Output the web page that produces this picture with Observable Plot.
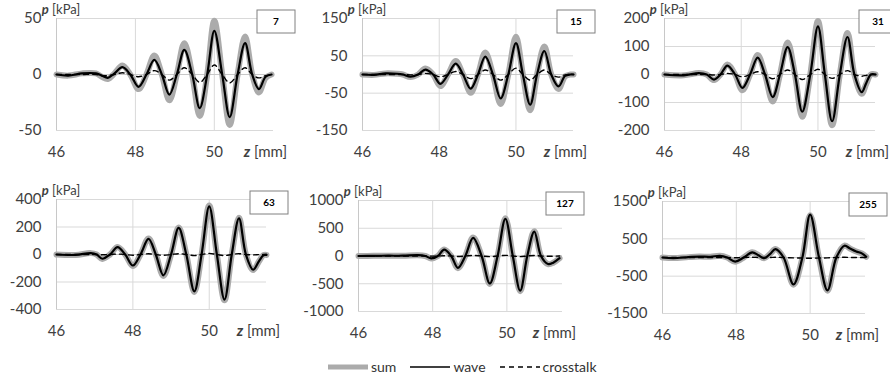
<!DOCTYPE html>
<html>
<head>
<meta charset="utf-8">
<script src="https://cdn.jsdelivr.net/npm/d3@7"></script>
<script src="https://cdn.jsdelivr.net/npm/@observablehq/plot@0.6"></script>
<style>
  body { margin: 0; background: #fff; }
  #root { position: relative; width: 890px; height: 380px; overflow: hidden; font-family: Lato, "Open Sans", sans-serif; }
  #root svg { position: absolute; overflow: visible; }
  #legend { position: absolute; left: 328px; top: 358px; display: flex; align-items: center; font-size: 14px; color: #333; font-family: Lato, sans-serif; }
  #legend .item { display: flex; align-items: center; margin-right: 14px; }
  #legend svg { position: static; margin-right: 3px; }
</style>
</head>
<body>
<div id="root"><div id="legend"></div></div>
<script>
// ---------- data ----------
const panelLabels = ["7", "15", "31", "63", "127", "255"];
const xTicks = [46, 48, 50];
const xDomain = [46, 51.5];

// panel "7"
const z7 = [46.0, 46.3, 46.65, 47.0, 47.15, 47.3, 47.47, 47.67, 47.87, 48.08, 48.28, 48.48, 48.67, 48.86, 49.05, 49.24, 49.44, 49.63, 49.82, 50.0, 50.2, 50.39, 50.59, 50.78, 50.96, 51.13, 51.3, 51.45];
const wave7 = [0, -1, 1, 1, -1, -3, 1, 6.5, 0, -11, 0, 13, 0, -18, 0, 22, 0, -30, 0, 39, 0, -38, 0, 28, 0, -13, -2, 0];
const cross7 = [0, 0, 0, 0, -1, -1, 0, 1.5, 0, -2, 0, 3.5, 0, -5, 0, 6, 0, -7, 0, 8.5, 0, -7.5, 0, 6, 0, -3, -1, 0];
const sum7 = [0, -1, 1, 1, -2, -4, 1, 8, 0, -13, 0, 17, 0, -23, 0, 28, 0, -37, 0, 48, 0, -45, 0, 34, 0, -16, -3, 0];
const yTicks7 = [-50, 0, 50];

// panel "15"
const z15 = [46.0, 46.3, 46.6, 46.9, 47.05, 47.25, 47.45, 47.64, 47.84, 48.03, 48.23, 48.43, 48.62, 48.82, 49.01, 49.2, 49.4, 49.6, 49.8, 50.0, 50.18, 50.37, 50.55, 50.74, 50.92, 51.11, 51.28, 51.42, 51.5];
const wave15 = [0, -1, 3, 2, 0, -6, 0, 13, 0, -25, 0, 29, 0, -38, 0, 48, 0, -64, 0, 84, 0, -81, 0, 63, 0, -32, -4, 0, 0];
const cross15 = [0, 0, 0, 0, 0, -1, 0, 3, 0, -6, 0, 8, 0, -11, 0, 12, 0, -15, 0, 17, 0, -15, 0, 12, 0, -7, -1, 0, 0];
const sum15 = [0, -1, 3, 2, 0, -7, 0, 16, 0, -31, 0, 36, 0, -49, 0, 59, 0, -79, 0, 101, 0, -96, 0, 75, 0, -39, -5, 0, 0];
const yTicks15 = [-150, -50, 50, 150];

// panel "31"
const z31 = [46.0, 46.5, 46.9, 47.1, 47.29, 47.46, 47.64, 47.84, 48.03, 48.23, 48.43, 48.62, 48.82, 49.01, 49.21, 49.4, 49.59, 49.8, 50.0, 50.18, 50.37, 50.57, 50.77, 50.95, 51.14, 51.26, 51.38, 51.5];
const wave31 = [0, -3, 5, 0, -18, 0, 32, 0, -48, 0, 60, 0, -81, 0, 98, 0, -133, 0, 172, 0, -167, 0, 134, 0, -63, -30, 0, 0];
const cross31 = [0, 0, 0, 0, -2, 0, 4, 0, -8, 0, 10, 0, -15, 0, 16, 0, -18, 0, 19, 0, -14, 0, 14, 0, -6, -3, 0, 0];
const sum31 = [0, -3, 5, 0, -20, 0, 36, 0, -56, 0, 70, 0, -96, 0, 114, 0, -151, 0, 191, 0, -181, 0, 148, 0, -69, -33, 0, 0];
const yTicks31 = [-200, -100, 0, 100, 200];

// panel "63"
const z63 = [46.0, 46.5, 46.9, 47.05, 47.2, 47.4, 47.6, 47.8, 48.0, 48.2, 48.41, 48.6, 48.8, 49.0, 49.2, 49.4, 49.61, 49.8, 50.0, 50.2, 50.4, 50.59, 50.78, 50.96, 51.15, 51.3, 51.42, 51.5];
const wave63 = [0, -3, 10, 0, -31, 0, 53, 0, -80, 0, 113, 0, -152, 0, 193, 0, -268, 0, 350, 0, -328, 0, 263, 0, -111, -50, -5, -3];
const cross63 = [0, 0, 0, 0, -2, 0, 3, 0, -5, 0, 5, 0, -6, 0, 6, 0, -8, 0, 8, 0, -8, 0, 6, 0, -3, -1, 0, 0];
const sum63 = [0, -3, 10, 0, -32, 0, 55, 0, -83, 0, 116, 0, -156, 0, 197, 0, -273, 0, 356, 0, -333, 0, 267, 0, -113, -51, -5, -3];
const yTicks63 = [-400, -200, 0, 200, 400];

// panel "127"
const z127 = [46.0, 46.4, 46.8, 47.2, 47.6, 47.8, 47.96, 48.14, 48.31, 48.5, 48.68, 48.88, 49.09, 49.32, 49.54, 49.75, 49.96, 50.16, 50.36, 50.55, 50.74, 50.92, 51.11, 51.25, 51.42];
const wave127 = [0, 3, 5, 5, 15, 0, -42, 0, 115, 0, -215, 0, 325, 0, -495, 0, 670, 0, -625, 0, 440, 0, -145, -120, -40];
const cross127 = [0, 0, 0, 0, 0, 0, -3, 0, 5, 0, -8, 0, 10, 0, -12, 0, 12, 0, -12, 0, 10, 0, -5, -3, 0];
const sum127 = [0, 3, 5, 5, 15, 0, -44, 0, 118, 0, -220, 0, 332, 0, -503, 0, 678, 0, -633, 0, 447, 0, -148, -122, -40];
const yTicks127 = [-1000, -500, 0, 500, 1000];

// panel "255"
const z255 = [46.0, 46.3, 46.7, 47.0, 47.3, 47.56, 47.75, 47.97, 48.2, 48.43, 48.6, 48.75, 48.92, 49.06, 49.28, 49.55, 49.79, 50.0, 50.24, 50.47, 50.71, 50.93, 51.08, 51.25, 51.4, 51.52];
const wave255 = [0, -15, 10, 25, 20, 45, 0, -108, 0, 135, 60, -18, 100, 225, 0, -720, 0, 1150, 0, -880, 0, 315, 240, 160, 110, 20];
const cross255 = [0, 0, 0, 0, 0, 0, 0, -5, 0, 5, 0, 0, 0, 5, 0, -10, -15, -20, -15, -10, 0, 5, 0, 0, 0, 0];
const sum255 = [0, -15, 10, 25, 20, 45, 0, -112, 0, 139, 60, -18, 100, 229, 0, -727, -12, 1135, -12, -888, 0, 319, 240, 160, 110, 20];
const yTicks255 = [-1500, -500, 500, 1500];

const legendNames = ["sum", "wave", "crosstalk"];

// ---------- layout ----------
const ML = 56, MT = 18, MR = 30, MB = 40;
const panels = [
  {label: panelLabels[0], z: z7, wave: wave7, cross: cross7, sum: sum7, ticks: yTicks7, x0: 56, x1: 273, y0: 18, y1: 130},
  {label: panelLabels[1], z: z15, wave: wave15, cross: cross15, sum: sum15, ticks: yTicks15, x0: 362, x1: 573, y0: 18, y1: 130},
  {label: panelLabels[2], z: z31, wave: wave31, cross: cross31, sum: sum31, ticks: yTicks31, x0: 664, x1: 875, y0: 18, y1: 130},
  {label: panelLabels[3], z: z63, wave: wave63, cross: cross63, sum: sum63, ticks: yTicks63, x0: 56, x1: 266, y0: 199, y1: 309},
  {label: panelLabels[4], z: z127, wave: wave127, cross: cross127, sum: sum127, ticks: yTicks127, x0: 358, x1: 562, y0: 200, y1: 311},
  {label: panelLabels[5], z: z255, wave: wave255, cross: cross255, sum: sum255, ticks: yTicks255, x0: 662, x1: 865, y0: 201, y1: 313}
];

const root = document.getElementById("root");
const FONT = "Lato, 'Open Sans', sans-serif";
const GRID = "#d9d9d9";

panels.forEach(p => {
  const rows = (vals) => p.z.map((z, i) => ({z, v: vals[i]}));
  const width = ML + (p.x1 - p.x0) + MR;
  const height = MT + (p.y1 - p.y0) + MB;
  const ymin = d3.min(p.ticks), ymax = d3.max(p.ticks);
  const chart = Plot.plot({
    width, height,
    marginLeft: ML, marginTop: MT, marginRight: MR, marginBottom: MB,
    style: {fontFamily: FONT, fontSize: "15px", color: "#404040", background: "transparent", overflow: "visible"},
    x: {domain: xDomain, ticks: xTicks, tickSize: 0, tickPadding: 16, label: null, tickFormat: d => String(d)},
    y: {domain: [ymin, ymax], ticks: p.ticks, tickSize: 0, tickPadding: 15, label: null, tickFormat: d => String(d)},
    marks: [
      Plot.gridY(p.ticks, {stroke: GRID, strokeOpacity: 1}),
      Plot.gridX([48, 50], {stroke: GRID, strokeOpacity: 1}),
      Plot.ruleX([46], {stroke: "#c8c8c8"}),
      Plot.ruleY([0], {stroke: "#c8c8c8"}),
      Plot.line(rows(p.sum), {x: "z", y: "v", stroke: "#ababab", strokeWidth: 6, curve: "catmull-rom"}),
      Plot.line(rows(p.wave), {x: "z", y: "v", stroke: "#000", strokeWidth: 2.2, curve: "catmull-rom"}),
      Plot.line(rows(p.cross), {x: "z", y: "v", stroke: "#000", strokeWidth: 1.4, strokeDasharray: "5,4", curve: "catmull-rom"})
    ]
  });
  chart.style.left = (p.x0 - ML) + "px";
  chart.style.top = (p.y0 - MT) + "px";
  const svg = d3.select(chart);
  const pw = p.x1 - p.x0;
  const ph = p.y1 - p.y0;
  // y-axis title
  const yt = svg.append("text").attr("x", ML + 5).attr("y", MT - 4)
    .attr("font-family", FONT).attr("font-size", 13).attr("fill", "#404040");
  yt.append("tspan").attr("font-weight", "bold").attr("font-style", "italic").text("p");
  yt.append("tspan").text(" [kPa]");
  // x-axis title
  const xt = svg.append("text").attr("x", ML + pw + 14).attr("y", MT + ph + 27)
    .attr("text-anchor", "end")
    .attr("font-family", FONT).attr("font-size", 15).attr("fill", "#404040");
  xt.append("tspan").attr("font-weight", "bold").attr("font-style", "italic").text("z");
  xt.append("tspan").text(" [mm]");
  // panel label box
  svg.append("rect").attr("x", ML + pw - 16).attr("y", MT - 8).attr("width", 38).attr("height", 23)
    .attr("fill", "#fff").attr("stroke", "#808080").attr("stroke-width", 1);
  svg.append("text").attr("x", ML + pw + 3).attr("y", MT + 3.5 + 3.5)
    .attr("text-anchor", "middle").attr("font-family", FONT).attr("font-size", 10)
    .attr("font-weight", "bold").attr("fill", "#000").text(p.label);
  root.appendChild(chart);
});

// ---------- legend ----------
const legend = d3.select("#legend");
const styles = [
  {stroke: "#ababab", width: 5, dash: null},
  {stroke: "#000", width: 1.6, dash: null},
  {stroke: "#000", width: 1.4, dash: "5,4"}
];
legendNames.forEach((name, i) => {
  const it = legend.append("div").attr("class", "item");
  const s = it.append("svg").attr("width", 40).attr("height", 10);
  s.append("line").attr("x1", 0).attr("x2", 40).attr("y1", 5).attr("y2", 5)
    .attr("stroke", styles[i].stroke).attr("stroke-width", styles[i].width)
    .attr("stroke-dasharray", styles[i].dash);
  it.append("span").text(name);
});
</script>
</body>
</html>
